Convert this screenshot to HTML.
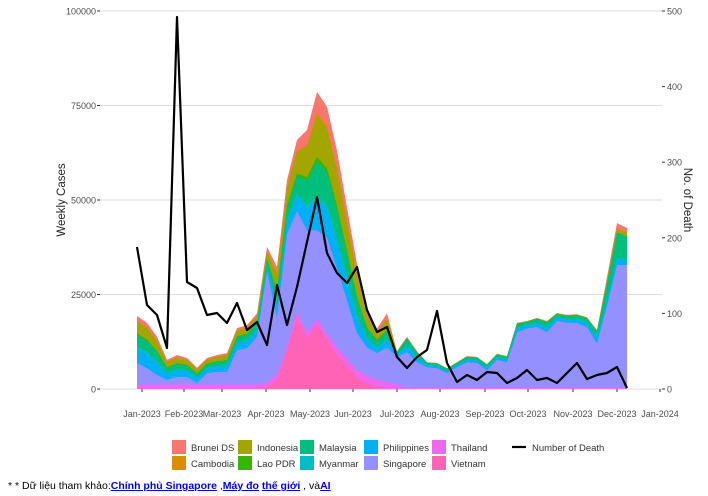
<!DOCTYPE html>
<html><head><meta charset="utf-8"><style>
body{margin:0;background:#fff;width:708px;height:496px;overflow:hidden;font-family:"Liberation Sans",sans-serif}
svg text{font-family:"Liberation Sans",sans-serif}
.foot{position:absolute;left:8px;top:480px;font-size:10.5px;color:#000}
.foot a{color:#00e;text-decoration:underline;font-weight:bold}
</style></head><body>
<svg id="s" width="708" height="496" style="position:absolute;left:0;top:0"></svg>
<div class="foot">* * Dữ liệu tham khảo:<a>Chính phủ Singapore</a> ,<a>Máy đo</a> <a>thế giới</a> , và<a>AI</a></div>
<script>
var s=document.getElementById('s'),h='';
var X0=100,X1=662,Y0=389,k=3.78;
for(var g=0;g<=4;g++){var y=Y0-g*25*k;h+='<line x1="'+X0+'" x2="'+X1+'" y1="'+y+'" y2="'+y+'" stroke="#dedede" stroke-width="1"/>';}
var T=[19.3,17.5,13.8,7.7,9,8.2,5.6,8.2,9,9.5,16.1,16.9,20,37.6,32.3,55.3,65.9,68.5,78.6,74.6,63,48,33,21,16,20,10,13.8,10,7.1,6.9,5.5,7.1,8.7,8.5,6.6,9.3,8.7,17.5,18,18.8,18,20.1,19.6,19.8,19,15.6,29.6,43.9,42.6];
var S=[6.9,5.5,3.7,2.4,3.2,3.2,1.6,4.2,4.5,4.5,10.3,10.8,13.8,31,19,41,47,42,42,40,32,23.5,14.8,11,9.5,11,8.5,9.8,7.1,5.8,5.5,4.2,5.8,7.1,6.9,5,7.7,7.1,15,16,16.4,15,18,17.5,17.5,16.4,12,22,32.8,32.8];
var VN=[],TH=[];
for(var i=0;i<50;i++){VN.push(0);TH.push(i<13?1.2:0.5);}
var vn={13:0.3,14:2.4,15:10,16:18.7,17:13.5,18:17,19:13,20:9,21:6,22:3,23:1.5,24:0.5};
for(var q in vn){VN[q]=vn[q];TH[q]=q<20?1.5:2;}
TH[25]=1.8;TH[26]=1.2;
var D=[247,305,315,348,17,282,288,315,313,323,303,330,322,345,285,325,287,242,197,253,273,283,267,310,332,327,357,368,357,350,311,363,382,375,380,372,373,383,378,370,380,378,383,373,363,379,375,373,367,388];
function sh(i){if(i<13)return[.3,.05,.25,.03,.25,.02,.1];if(i<26)return[.22,.03,.25,.03,.30,.02,.15];if(i<47)return[.4,.05,.45,0,.05,0,.05];return[.15,.02,.6,0,.1,0,.13];}
var lay=[];for(var L=0;L<10;L++)lay.push([]);
for(var i=0;i<50;i++){var v=VN[i],t=TH[i],sg=Math.max(S[i]-v-t,0),r=Math.max(T[i]-S[i],0),f=sh(i);
var vals=[v,t,sg,r*f[0],r*f[1],r*f[2],r*f[3],r*f[4],r*f[5],r*f[6]],c=0;
for(var L=0;L<10;L++){c+=vals[L];lay[L].push(c);}}
var lc=['#FF63B6','#EF67EB','#9590FF','#00B0F6','#00BFC4','#00BF7D','#39B600','#A3A500','#D89000','#F8766D'];
var xs=function(i){return 137+10*i;};
for(var L=9;L>=0;L--){var p='M'+xs(0)+','+Y0;for(var i=0;i<50;i++)p+=' L'+xs(i)+','+(Y0-lay[L][i]*k).toFixed(1);p+=' L'+xs(49)+','+Y0+'Z';
h+='<path d="'+p+'" fill="'+lc[L]+'"/>';}
var p='';for(var i=0;i<50;i++)p+=(i?' L':'M')+xs(i)+','+D[i];
h+='<path d="'+p+'" fill="none" stroke="#000" stroke-width="2.2" stroke-linejoin="round"/>';
var lt=['0','25000','50000','75000','100000'];
for(var g=0;g<5;g++){var y=Y0-g*25*k;h+='<text x="96" y="'+(y+3.5)+'" font-size="9" fill="#4d4d4d" text-anchor="end">'+lt[g]+'</text><line x1="97" x2="100" y1="'+y+'" y2="'+y+'" stroke="#333"/>';}
for(var g=0;g<=5;g++){var y=Y0-g*100*0.756;h+='<line x1="662" x2="665" y1="'+y+'" y2="'+y+'" stroke="#333"/><text x="667" y="'+(y+3.5)+'" font-size="9" fill="#4d4d4d">'+(g*100)+'</text>';}
var ml=['Jan-2023','Feb-2023','Mar-2023','Apr-2023','May-2023','Jun-2023','Jul-2023','Aug-2023','Sep-2023','Oct-2023','Nov-2023','Dec-2023','Jan-2024'];
var mx=[142,184,222,266,310,353,397,440,485,528,573,617,660];
for(var m=0;m<13;m++){h+='<line x1="'+mx[m]+'" x2="'+mx[m]+'" y1="389" y2="392" stroke="#333"/><text x="'+mx[m]+'" y="417" font-size="9" fill="#4d4d4d" text-anchor="middle">'+ml[m]+'</text>';}
h+='<text transform="translate(65,200) rotate(-90)" font-size="11.5" fill="#222" text-anchor="middle">Weekly Cases</text>';
h+='<text transform="translate(684,200) rotate(90)" font-size="11.5" fill="#222" text-anchor="middle">No. of Death</text>';
var lg=[[172,440,'#F8766D','Brunei DS'],[172,456,'#D89000','Cambodia'],[238,440,'#A3A500','Indonesia'],[238,456,'#39B600','Lao PDR'],[300,440,'#00BF7D','Malaysia'],[300,456,'#00BFC4','Myanmar'],[364,440,'#00B0F6','Philippines'],[364,456,'#9590FF','Singapore'],[432,440,'#EF67EB','Thailand'],[432,456,'#FF63B6','Vietnam']];
lg.forEach(function(a){h+='<rect x="'+a[0]+'" y="'+a[1]+'" width="14" height="14" fill="'+a[2]+'"/><text x="'+(a[0]+19)+'" y="'+(a[1]+11)+'" font-size="9.5" fill="#333">'+a[3]+'</text>';});
h+='<line x1="512" x2="526" y1="447" y2="447" stroke="#000" stroke-width="2.2"/><text x="532" y="451" font-size="9.5" fill="#333">Number of Death</text>';
s.innerHTML=h;
</script>
</body></html>
